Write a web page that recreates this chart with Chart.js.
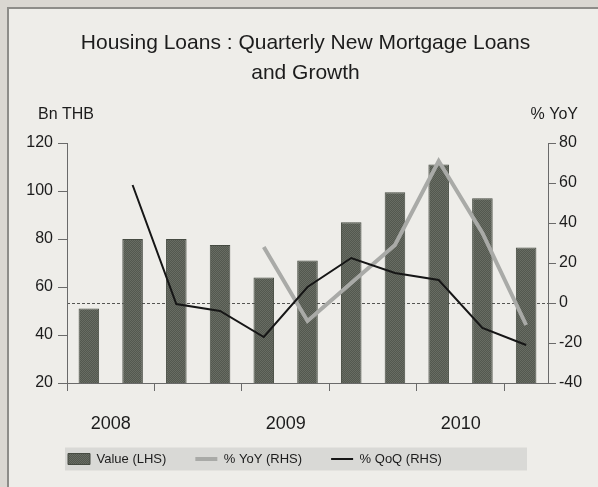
<!DOCTYPE html>
<html>
<head>
<meta charset="utf-8">
<title>Housing Loans</title>
<script src="https://cdn.jsdelivr.net/npm/chart.js@4.4.1/dist/chart.umd.min.js"></script>
<style>
  html, body { margin: 0; padding: 0; background: #eeede9; }
  #chart { display: block; }
</style>
</head>
<body>
<canvas id="chart" width="598" height="487"></canvas>
<script>
// Quarterly new mortgage loans (Bn THB) with growth rates (%)
const quarters = ['Q1 2008', 'Q2 2008', 'Q3 2008', 'Q4 2008',
                  'Q1 2009', 'Q2 2009', 'Q3 2009', 'Q4 2009',
                  'Q1 2010', 'Q2 2010', 'Q3 2010'];
const loanValue = [51, 80, 80, 77.5, 64, 71, 87, 99.5, 111, 97, 76.5];
const yoyGrowth = [null, null, null, null, 28, -9, 10, 29, 71, 35, -11];
const qoqGrowth = [null, 59, -0.5, -4, -17, 8, 22.5, 15, 11.5, -12.5, -21];
const years = ['2008', '2009', '2010'];

const FONT = "'Liberation Sans', Arial, sans-serif";
const TEXT = '#1c1c1c';
const AXIS = '#6a6a6a';

// dotted fill for the bars, like a halftone print
function barPattern() {
    const c = document.createElement('canvas');
    c.width = 2;
    c.height = 2;
    const g = c.getContext('2d');
    g.fillStyle = '#53584f';
    g.fillRect(0, 0, 2, 2);
    g.fillStyle = '#686c63';
    g.fillRect(0, 0, 1, 1);
    g.fillRect(1, 1, 1, 1);
    return g.createPattern(c, 'repeat');
}

// legend sits in its own band under the year labels, starting at the plot's left edge
const legendPlacement = {
    id: 'legendPlacement',
    afterLayout(chart) {
        const lg = chart.legend;
        if (!lg) return;
        const pad = lg.options.labels.padding;
        const dx = (chart.chartArea.left + 1 - pad) - lg.left;
        const dy = (chart.chartArea.bottom + 40.5) - lg.top;
        lg.left += dx; lg.right += dx;
        lg.top += dy; lg.bottom += dy;
    }
};

// paper background, frame and the grey legend band
const backdrop = {
    id: 'backdrop',
    beforeDraw(chart) {
        const ctx = chart.ctx;
        const w = chart.width, h = chart.height;
        ctx.save();
        ctx.fillStyle = '#dad7d2';
        ctx.fillRect(0, 0, w, h);
        ctx.fillStyle = '#eeede9';
        ctx.fillRect(9, 9, w - 9, h - 9);
        ctx.strokeStyle = '#8d8c89';
        ctx.lineWidth = 2;
        ctx.beginPath();
        ctx.moveTo(8, h);
        ctx.lineTo(8, 8);
        ctx.lineTo(w, 8);
        ctx.stroke();

        const lg = chart.legend;
        if (lg) {
            const labels = lg.options.labels;
            const mid = lg.top + labels.padding + labels.font.size / 2;
            ctx.fillStyle = '#d9d9d6';
            ctx.fillRect(chart.chartArea.left - 2, mid - 11.5, 462, 23);
        }
        ctx.restore();
    }
};

// unit captions above each value axis
const axisCaptions = {
    id: 'axisCaptions',
    afterDraw(chart) {
        const ctx = chart.ctx;
        const top = chart.chartArea.top - 28;
        ctx.save();
        ctx.font = '16px ' + FONT;
        ctx.fillStyle = TEXT;
        ctx.textBaseline = 'middle';
        ctx.textAlign = 'left';
        ctx.fillText('Bn THB', chart.chartArea.left - 29, top);
        ctx.textAlign = 'right';
        ctx.fillText('% YoY', chart.chartArea.right + 30, top);
        ctx.restore();
    }
};

const ctx = document.getElementById('chart').getContext('2d');

new Chart(ctx, {
    data: {
        labels: quarters,
        datasets: [{
            type: 'bar',
            label: 'Value (LHS)',
            data: loanValue,
            yAxisID: 'y',
            backgroundColor: barPattern(),
            borderColor: '#464b42',
            borderWidth: 1,
            barPercentage: 0.47,
            categoryPercentage: 1,
            pointStyle: 'rect',
            order: 3
        }, {
            type: 'line',
            label: '% YoY (RHS)',
            data: yoyGrowth,
            yAxisID: 'y1',
            borderColor: '#a9aaa7',
            borderWidth: 4,
            pointRadius: 0,
            pointStyle: 'line',
            tension: 0,
            order: 2
        }, {
            type: 'line',
            label: '% QoQ (RHS)',
            data: qoqGrowth,
            yAxisID: 'y1',
            borderColor: '#161616',
            borderWidth: 2,
            pointRadius: 0,
            pointStyle: 'line',
            tension: 0,
            order: 1
        }]
    },
    options: {
        responsive: false,
        animation: false,
        layout: {
            padding: { top: 8, left: 23, right: 10, bottom: 2 }
        },
        plugins: {
            title: {
                display: true,
                text: ['Housing Loans : Quarterly New Mortgage Loans', 'and Growth'],
                color: TEXT,
                font: { family: FONT, size: 21, weight: 'normal', lineHeight: '30px' },
                padding: { top: 20, bottom: 55 }
            },
            legend: {
                position: 'bottom',
                align: 'start',
                labels: {
                    color: TEXT,
                    font: { family: FONT, size: 13 },
                    usePointStyle: true,
                    pointStyleWidth: 22,
                    boxHeight: 11,
                    padding: 29,
                    sort: (a, b) => a.datasetIndex - b.datasetIndex
                }
            },
            tooltip: { enabled: false }
        },
        scales: {
            x: {
                type: 'category',
                position: 'bottom',
                offset: true,
                afterFit: (scale) => { scale.height = 50; },
                ticks: {
                    autoSkip: false,
                    maxRotation: 0,
                    padding: 22,
                    labelOffset: 22,
                    color: TEXT,
                    font: { family: FONT, size: 18 },
                    // one year label per four quarters, set between Q1 and Q2
                    callback: (v, i) => (i % 4 === 0 ? years[i / 4] : '')
                },
                grid: {
                    offset: true,
                    drawOnChartArea: false,
                    tickLength: 8,
                    color: (c) => (c.index !== undefined && c.index % 2 === 0) ? AXIS : 'transparent',
                    tickColor: (c) => (c.index !== undefined && c.index % 2 === 0) ? AXIS : 'transparent'
                },
                border: { color: AXIS, width: 1 }
            },
            y: {
                position: 'left',
                min: 20,
                max: 120,
                afterFit: (scale) => { scale.width = 44; },
                ticks: {
                    stepSize: 20,
                    padding: 5,
                    color: TEXT,
                    font: { family: FONT, size: 16 }
                },
                grid: {
                    drawOnChartArea: false,
                    tickLength: 9,
                    tickColor: AXIS
                },
                border: { color: AXIS, width: 1 }
            },
            y1: {
                position: 'right',
                min: -40,
                max: 80,
                afterFit: (scale) => { scale.width = 40; },
                ticks: {
                    stepSize: 20,
                    padding: 3,
                    color: TEXT,
                    font: { family: FONT, size: 16 }
                },
                grid: {
                    drawOnChartArea: true,
                    tickLength: 8,
                    tickColor: AXIS,
                    color: (c) => (c.tick && c.tick.value === 0) ? '#555553' : 'transparent'
                },
                border: { color: AXIS, width: 1, dash: [3, 2] }
            }
        }
    },
    plugins: [legendPlacement, backdrop, axisCaptions]
});
</script>
</body>
</html>
